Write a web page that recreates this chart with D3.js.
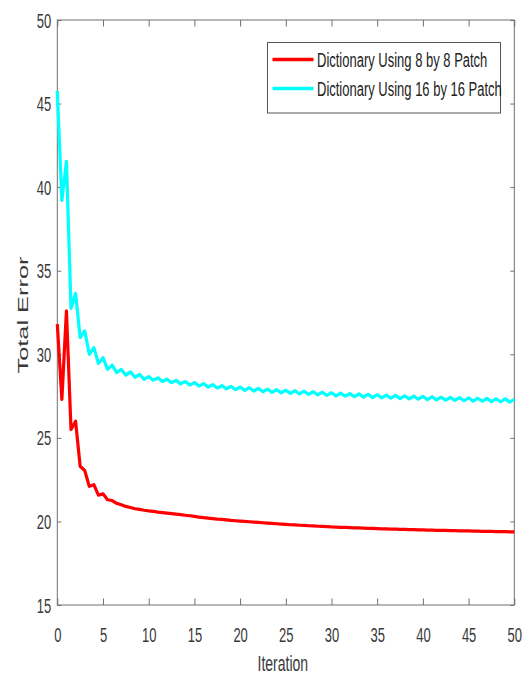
<!DOCTYPE html>
<html>
<head>
<meta charset="utf-8">
<script src="https://cdn.jsdelivr.net/npm/d3@7"></script>
<style>
  html, body { margin: 0; padding: 0; background: #fff; }
  svg { display: block; font-family: "Liberation Sans", Arial, sans-serif; }
</style>
</head>
<body>
<svg id="chart" width="530" height="675"></svg>
<script>
// ---------------- data ----------------
const iterations = [
  0,0.5,1,1.5,2,2.5,3,3.5,4,4.5,5,5.5,6,6.5,7,7.5,8,8.5,9,9.5,
  10,10.5,11,11.5,12,12.5,13,13.5,14,14.5,15,15.5,16,16.5,17,17.5,18,18.5,19,19.5,
  20,20.5,21,21.5,22,22.5,23,23.5,24,24.5,25,25.5,26,26.5,27,27.5,28,28.5,29,29.5,
  30,30.5,31,31.5,32,32.5,33,33.5,34,34.5,35,35.5,36,36.5,37,37.5,38,38.5,39,39.5,
  40,40.5,41,41.5,42,42.5,43,43.5,44,44.5,45,45.5,46,46.5,47,47.5,48,48.5,49,49.5,50
];
const patch8 = [
  31.8,27.3,32.6,25.5,26.0,23.3,23.05,22.1,22.2,21.57,21.65,21.3,21.25,21.08,21.0,20.9,20.83,20.76,20.72,20.67,
  20.63,20.6,20.56,20.53,20.5,20.47,20.44,20.41,20.37,20.34,20.3,20.26,20.23,20.2,20.17,20.14,20.12,20.09,20.06,20.04,
  20.02,20.0,19.98,19.96,19.94,19.92,19.9,19.88,19.86,19.84,19.82,19.8,19.79,19.77,19.76,19.74,19.73,19.71,19.7,19.69,
  19.67,19.66,19.65,19.64,19.63,19.62,19.61,19.6,19.59,19.58,19.57,19.56,19.55,19.545,19.54,19.53,19.52,19.51,19.505,19.5,
  19.49,19.485,19.48,19.47,19.465,19.46,19.455,19.45,19.44,19.435,19.43,19.42,19.415,19.41,19.405,19.4,19.395,19.39,19.385,19.38,19.375
];
const patch16 = [
  45.75,39.2,41.55,32.75,33.64,31.0,31.4,30.0,30.4,29.45,29.8,29.1,29.35,28.9,29.1,28.75,28.95,28.62,28.8,28.5,
  28.67,28.45,28.59,28.37,28.51,28.3,28.44,28.23,28.37,28.16,28.31,28.1,28.25,28.04,28.19,27.98,28.13,27.93,28.08,27.88,
  28.04,27.84,28.0,27.8,27.96,27.76,27.92,27.72,27.88,27.69,27.85,27.66,27.82,27.63,27.79,27.6,27.76,27.57,27.73,27.54,
  27.7,27.51,27.68,27.49,27.65,27.46,27.63,27.44,27.6,27.41,27.58,27.39,27.56,27.37,27.54,27.35,27.52,27.33,27.5,27.31,
  27.48,27.29,27.46,27.27,27.44,27.25,27.42,27.24,27.41,27.22,27.39,27.2,27.37,27.19,27.36,27.17,27.34,27.16,27.33,27.14,27.31
];
const seriesNames = ["Dictionary Using 8 by 8 Patch", "Dictionary Using 16 by 16 Patch"];
const seriesColors = ["#ff0000", "#00ffff"];
const xTicks = [0,5,10,15,20,25,30,35,40,45,50];
const yTicks = [15,20,25,30,35,40,45,50];
const xLabel = "Iteration";
const yLabel = "Total Error";

// ---------------- layout ----------------
const L = 57.3, R = 514.3, T = 20, B = 605;
const SY = 1.55;           // vertical stretch of the text
const axisColor = "#707070";
const textColor = "#3a3a3a";

const svg = d3.select("#chart");
const x = d3.scaleLinear().domain([0, 50]).range([L, R]);
const y = d3.scaleLinear().domain([15, 50]).range([B, T]);

// box
svg.append("rect").attr("x", L).attr("y", T).attr("width", R - L).attr("height", B - T)
  .attr("fill", "none").attr("stroke", axisColor).attr("stroke-width", 1);

function styleAxis(g) {
  g.select(".domain").remove();
  g.selectAll(".tick line").attr("stroke", axisColor).attr("stroke-width", 1);
}

// bottom axis
const gx = svg.append("g").attr("transform", `translate(0,${B})`)
  .call(d3.axisBottom(x).tickValues(xTicks).tickSize(-6.5).tickFormat(d3.format("d")));
styleAxis(gx);
gx.selectAll(".tick text")
  .attr("x", 0).attr("y", 0).attr("dy", null)
  .attr("transform", `translate(0,37) scale(1,${SY})`)
  .attr("text-anchor", "middle")
  .attr("font-size", 13).attr("fill", textColor);

// top axis (ticks only)
const gxt = svg.append("g").attr("transform", `translate(0,${T})`)
  .call(d3.axisTop(x).tickValues(xTicks).tickSize(-6.5).tickFormat(""));
styleAxis(gxt);

// left axis
const gy = svg.append("g").attr("transform", `translate(${L},0)`)
  .call(d3.axisLeft(y).tickValues(yTicks).tickSize(-4).tickFormat(d3.format("d")));
styleAxis(gy);
gy.selectAll(".tick text")
  .attr("x", 0).attr("y", 0).attr("dy", null)
  .attr("transform", `translate(-6,7) scale(1,${SY})`)
  .attr("text-anchor", "end")
  .attr("font-size", 13).attr("fill", textColor);

// right axis (ticks only)
const gyr = svg.append("g").attr("transform", `translate(${R},0)`)
  .call(d3.axisRight(y).tickValues(yTicks).tickSize(-4).tickFormat(""));
styleAxis(gyr);

// lines
const line = d3.line().x((d, i) => x(iterations[i])).y(d => y(d));
[patch8, patch16].forEach((vals, k) => {
  svg.append("path").datum(vals)
    .attr("fill", "none")
    .attr("stroke", seriesColors[k])
    .attr("stroke-width", 3.2)
    .attr("stroke-linejoin", "round")
    .attr("d", line);
});

// axis titles
svg.append("text").text(xLabel)
  .attr("transform", `translate(${(L + R) / 2 - 3},671) scale(1,${SY})`)
  .attr("text-anchor", "middle").attr("font-size", 14).attr("fill", textColor);
svg.append("text").text(yLabel)
  .attr("transform", `translate(28,315) rotate(-90)`)
  .attr("text-anchor", "middle").attr("font-size", 14).attr("fill", textColor)
  .attr("textLength", 117).attr("lengthAdjust", "spacingAndGlyphs");

// legend
const lg = svg.append("g");
lg.append("rect").attr("x", 267.5).attr("y", 42.5).attr("width", 233).attr("height", 70.5)
  .attr("fill", "#fff").attr("stroke", "#555").attr("stroke-width", 1);
const legY = [59.5, 88.5];
seriesNames.forEach((name, k) => {
  lg.append("line").attr("x1", 272.5).attr("x2", 313.5)
    .attr("y1", legY[k]).attr("y2", legY[k])
    .attr("stroke", seriesColors[k]).attr("stroke-width", 3.5);
  lg.append("text").text(name)
    .attr("transform", `translate(317,${legY[k] + 7}) scale(1,${SY})`)
    .attr("font-size", 13).attr("fill", "#222");
});
</script>
</body>
</html>
